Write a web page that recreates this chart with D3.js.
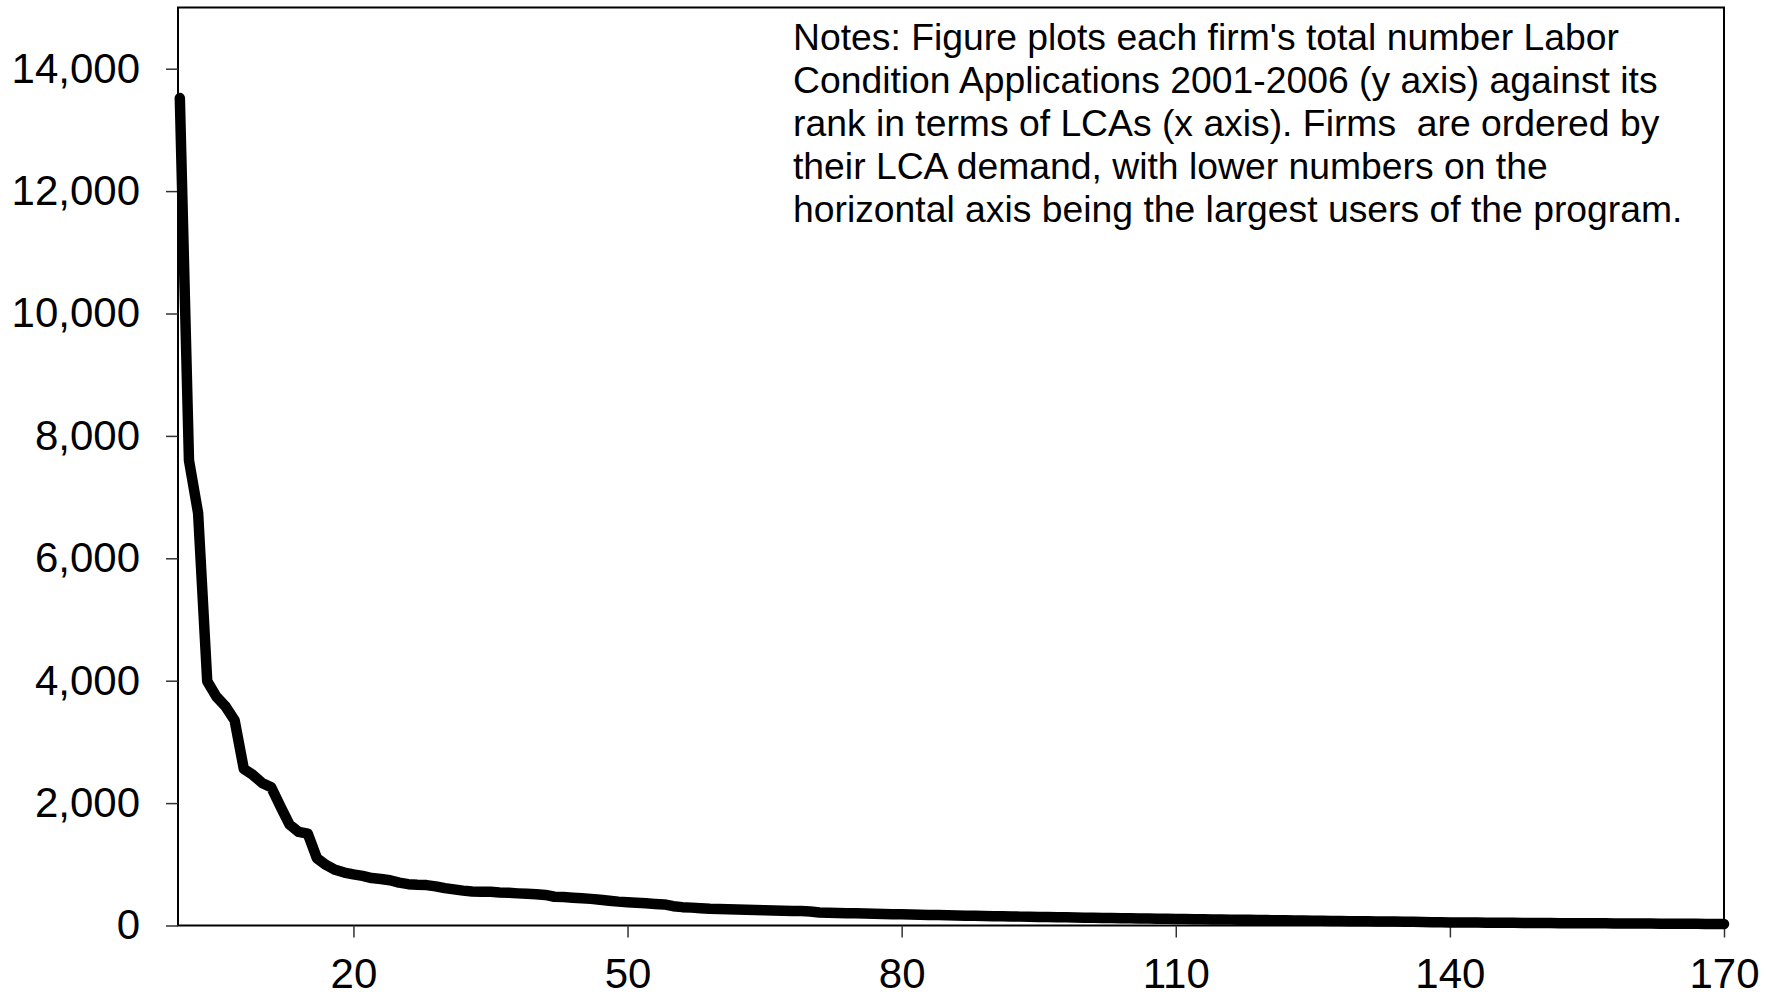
<!DOCTYPE html>
<html>
<head>
<meta charset="utf-8">
<script src="https://cdn.jsdelivr.net/npm/d3@7"></script>
<style>
  html, body { margin: 0; padding: 0; background: #fff; }
  svg { display: block; }
  text { font-family: "Liberation Sans", Arial, sans-serif; fill: #000; }
</style>
</head>
<body>
<svg id="chart" width="1768" height="998"></svg>
<script>
// ---- Data ----
const xTickValues = [20, 50, 80, 110, 140, 170];
const yTickValues = [0, 2000, 4000, 6000, 8000, 10000, 12000, 14000];
// LCA totals 2001-2006 for firms ranked 1..170
const lcaCounts = [
  13520, 7600, 6740, 3990, 3740, 3580, 3350, 2560, 2460, 2330,
  2260, 1950, 1650, 1530, 1500, 1100, 990, 910, 865, 835,
  810, 775, 760, 740, 700, 675, 665, 660, 640, 610,
  590, 570, 555, 553, 550, 540, 535, 525, 518, 512,
  500, 470, 465, 455, 445, 435, 420, 405, 390, 380,
  372, 362, 352, 345, 315, 300, 292, 283, 272, 268,
  265, 260, 256, 252, 248, 245, 241, 238, 235, 230,
  212, 208, 205, 202, 199, 196, 192, 188, 185, 182,
  179, 176, 173, 170, 167, 164, 161, 158, 155, 152,
  150, 148, 145, 143, 140, 138, 135, 133, 130, 128,
  126, 124, 122, 120, 118, 116, 114, 112, 110, 108,
  106, 104, 102, 100, 98, 96, 94, 92, 90, 88,
  86, 84, 82, 80, 78, 77, 75, 73, 71, 70,
  68, 67, 65, 64, 62, 60, 58, 55, 52, 50,
  49, 48, 47, 46, 45, 44, 43, 42, 41, 40,
  39, 38, 37, 37, 36, 35, 35, 34, 34, 33,
  32, 31, 30, 29, 28, 28, 27, 26, 25, 24
];
const firmRanks = lcaCounts.map((_, i) => i + 1);
const notesLines = [
  "Notes: Figure plots each firm's total number Labor",
  "Condition Applications 2001-2006 (y axis) against its",
  "rank in terms of LCAs (x axis). Firms  are ordered by",
  "their LCA demand, with lower numbers on the",
  "horizontal axis being the largest users of the program."
];

// ---- Layout ----
const plot = { left: 178, right: 1724, top: 7.5, bottom: 925.5 };
const svg = d3.select("#chart");

const x = d3.scaleLinear().domain([0.8, 170]).range([plot.left, plot.right]);
const y = d3.scaleLinear().domain([0, 15000]).range([plot.bottom, plot.top]);

// Plot frame
svg.append("rect")
  .attr("x", plot.left).attr("y", plot.top)
  .attr("width", plot.right - plot.left).attr("height", plot.bottom - plot.top)
  .attr("fill", "none").attr("stroke", "#000").attr("stroke-width", 2);

// Y axis
const yAxis = svg.append("g")
  .attr("transform", `translate(${plot.left},0)`)
  .call(d3.axisLeft(y).tickValues(yTickValues).tickFormat(d3.format(",")).tickSize(12).tickPadding(26));
yAxis.select(".domain").remove();
yAxis.selectAll(".tick line").attr("stroke", "#333").attr("stroke-width", 1.5);
yAxis.selectAll("text").style("font-size", "42px").attr("fill", "#000");

// X axis
const xAxis = svg.append("g")
  .attr("transform", `translate(0,${plot.bottom})`)
  .call(d3.axisBottom(x).tickValues(xTickValues).tickFormat(d3.format("d")).tickSize(12).tickPadding(21));
xAxis.select(".domain").remove();
xAxis.selectAll(".tick line").attr("stroke", "#333").attr("stroke-width", 1.5);
xAxis.selectAll("text").style("font-size", "42px").attr("fill", "#000");

// Line
const line = d3.line()
  .x((d, i) => x(firmRanks[i]))
  .y(d => y(d));
svg.append("path")
  .datum(lcaCounts)
  .attr("d", line)
  .attr("fill", "none")
  .attr("stroke", "#000")
  .attr("stroke-width", 10.5)
  .attr("stroke-linejoin", "round")
  .attr("stroke-linecap", "round");

// Notes
const notes = svg.append("text")
  .attr("x", 793)
  .attr("y", 50)
  .style("font-size", "37.3px");
notes.selectAll("tspan")
  .data(notesLines)
  .join("tspan")
  .attr("x", 793)
  .attr("dy", (d, i) => i === 0 ? 0 : 43)
  .attr("xml:space", "preserve")
  .style("white-space", "pre")
  .text(d => d);
</script>
</body>
</html>
